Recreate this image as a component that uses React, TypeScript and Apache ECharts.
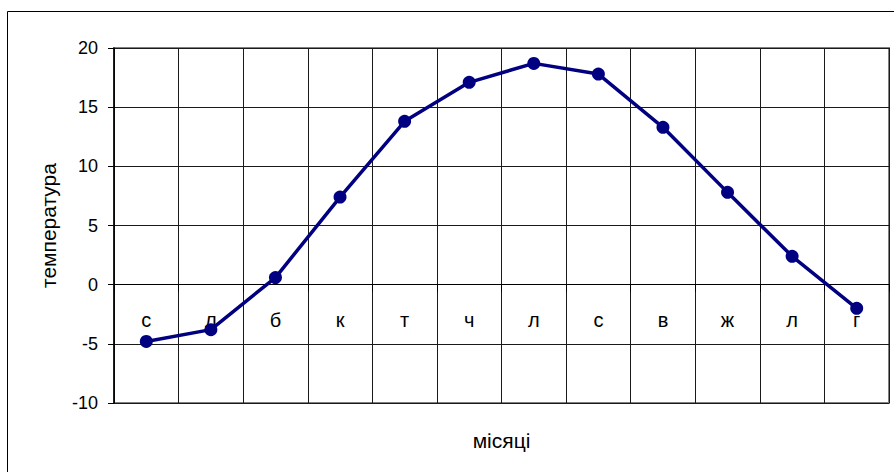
import React, { useEffect, useRef } from "react";
import * as echarts from "echarts";

const months = ["с", "л", "б", "к", "т", "ч", "л", "с", "в", "ж", "л", "г"];
const temperature = [-4.8, -3.8, 0.6, 7.4, 13.8, 17.1, 18.7, 17.8, 13.3, 7.8, 2.4, -2.0];
const yMin = -10;
const yMax = 20;
const yStep = 5;

const FONT = "Liberation Sans, Arial, sans-serif";

const GRID_TOP = 48;
const GRID_BOTTOM_PX = 403;
const zeroY = GRID_TOP + ((GRID_BOTTOM_PX - GRID_TOP) * yMax) / (yMax - yMin);
const xAxisOffset = -(GRID_BOTTOM_PX - zeroY);

export default function App() {
  const ref = useRef<HTMLDivElement>(null);
  useEffect(() => {
    if (!ref.current) return;
    const chart = echarts.init(ref.current, undefined, { renderer: "svg" });
    chart.setOption({
      animation: false,
      backgroundColor: "#ffffff",
      textStyle: { fontFamily: FONT },
      graphic: [
        {
          type: "rect",
          shape: { x: 7.5, y: 11.5, width: 1000, height: 1000 },
          style: { fill: "none", stroke: "#000", lineWidth: 1 },
          silent: true,
          z: -10,
        },
      ],
      grid: {
        left: 114,
        top: GRID_TOP,
        right: 5,
        bottom: 472 - GRID_BOTTOM_PX,
        show: true,
        borderColor: "#808080",
        borderWidth: 2,
        backgroundColor: "transparent",
        containLabel: false,
        outerBoundsMode: "none",
      },
      xAxis: {
        type: "category",
        data: months,
        boundaryGap: true,
        position: "bottom",
        offset: xAxisOffset,
        name: "місяці",
        nameLocation: "middle",
        nameGap: 145,
        nameTextStyle: { fontSize: 21, color: "#000", fontFamily: FONT },
        axisLine: { onZero: false, lineStyle: { color: "#000", width: 1 } },
        axisTick: { show: true, length: 7, interval: 0, lineStyle: { color: "#000" } },
        axisLabel: { margin: 25, fontSize: 20, color: "#000", fontFamily: FONT, interval: 0 },
        splitLine: { show: true, interval: 0, lineStyle: { color: "#1a1a1a", width: 1 } },
      },
      yAxis: {
        type: "value",
        min: yMin,
        max: yMax,
        interval: yStep,
        name: "температура",
        nameLocation: "middle",
        nameGap: 55,
        nameTextStyle: { fontSize: 21, color: "#000", fontFamily: FONT },
        axisLine: { show: true, lineStyle: { color: "#000", width: 1.5 } },
        axisTick: { show: true, length: 6, lineStyle: { color: "#000" } },
        axisLabel: { margin: 16, fontSize: 18, color: "#000", fontFamily: FONT },
        splitLine: { show: true, lineStyle: { color: "#1a1a1a", width: 1 } },
      },
      series: [
        {
          type: "line",
          data: temperature,
          symbol: "circle",
          symbolSize: 13,
          lineStyle: { color: "#000080", width: 3.5 },
          itemStyle: { color: "#000080" },
          z: 5,
        },
      ],
    });
    return () => chart.dispose();
  }, []);
  return (
    <div
      ref={ref}
      style={{ position: "fixed", left: 0, top: 0, width: 894, height: 472 }}
    />
  );
}
